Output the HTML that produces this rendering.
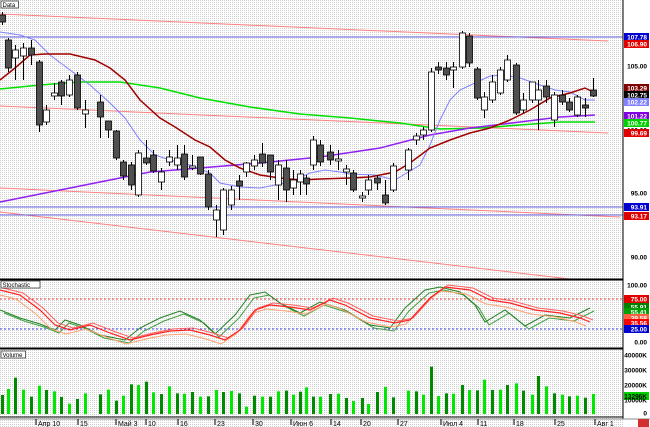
<!DOCTYPE html>
<html><head><meta charset="utf-8"><style>
html,body{margin:0;padding:0;background:#fff;}
svg{display:block;font-family:"Liberation Sans",sans-serif;}
</style></head><body>
<svg id="c" width="650" height="427" viewBox="0 0 650 427" xmlns="http://www.w3.org/2000/svg">
<defs><pattern id="dots" width="2" height="2" patternUnits="userSpaceOnUse"><rect width="2" height="2" fill="#fff"/><rect width="1" height="1" fill="#d0d0d0"/></pattern></defs>
<rect width="650" height="427" fill="url(#dots)"/>
<rect x="623" y="0" width="27" height="427" fill="#fff"/>
<g id="g"></g>
</svg>
<script>
var g=document.getElementById('g');var NS='http://www.w3.org/2000/svg';
function el(t,a,txt){var e=document.createElementNS(NS,t);for(var k in a)e.setAttribute(k,a[k]);if(txt!==undefined)e.textContent=txt;g.appendChild(e);return e;}
function pl(pts,col,w,dash){el('polyline',{points:pts.map(function(p){return p.join(',')}).join(' '),fill:'none',stroke:col,'stroke-width':w||1,'stroke-dasharray':dash||''});}
el('line',{x1:0,y1:14,x2:608,y2:41,stroke:'#ff8080'});
el('line',{x1:0,y1:106,x2:608,y2:133,stroke:'#ff8080'});
el('line',{x1:0,y1:188,x2:620,y2:217,stroke:'#ff8080'});
el('line',{x1:0,y1:212,x2:570,y2:279,stroke:'#ff8080'});
el('line',{x1:0,y1:37,x2:623,y2:37,stroke:'#6060e0'});
el('line',{x1:0,y1:207,x2:623,y2:207,stroke:'#6060e0'});
el('line',{x1:0,y1:215,x2:623,y2:215,stroke:'#6060e0'});
pl([[0,89],[40,85],[80,82],[120,82],[160,88],[200,98],[250,107],[300,114],[350,118],[400,123],[440,129],[480,128],[520,125],[560,122],[595,122]],'#00e000',1.5);
pl([[0,202],[60,190],[120,178],[150,172],[200,168],[260,163],[320,157],[380,148],[430,135],[470,128],[520,122],[560,117],[595,115]],'#9020f0',1.5);
pl([[0,32],[20,35],[35,40],[50,55],[70,70],[90,85],[110,103],[125,118],[140,140],[155,155],[170,160],[190,165],[210,173],[220,183],[240,187],[260,188],[290,182],[310,173],[325,170],[340,172],[350,174],[375,175],[395,180],[420,165],[430,145],[440,120],[450,100],[460,90],[475,83],[490,76],[505,75],[520,78],[540,85],[555,90],[570,92],[585,100],[595,100]],'#8080ff',1);
pl([[0,80],[15,68],[30,55],[45,54],[70,54],[95,60],[110,68],[125,80],[140,100],[160,118],[175,127],[195,140],[210,147],[225,160],[240,168],[260,175],[280,178],[300,180],[320,179],[350,178],[370,177],[395,172],[410,163],[430,148],[450,140],[470,133],[490,128],[510,120],[530,110],[550,98],[570,93],[585,88],[593,92]],'#a00000',1.5);
var C=[[2,15,22,12,25,0],[8,40,68,38,72,0],[15,50,58,45,80,1],[23,48,56,43,80,1],[31,48,55,40,65,0],[39,62,125,60,132,0],[46,110,122,105,125,1],[54,93,96,83,100,1],[61,82,96,80,105,0],[69,80,95,75,97,1],[77,75,108,72,110,0],[85,110,114,100,128,1],[100,102,117,95,138,0],[108,121,130,121,138,0],[116,131,158,130,160,0],[123,162,176,160,180,0],[131,165,185,162,190,0],[138,153,195,150,197,1],[146,158,163,140,165,0],[153,155,171,150,173,0],[161,172,182,168,190,1],[169,157,162,150,166,1],[177,158,165,145,170,1],[184,154,177,145,180,0],[192,166,168,155,170,1],[200,157,174,157,175,0],[208,174,207,170,210,0],[216,210,220,205,237,1],[223,190,230,188,235,1],[231,190,205,186,210,1],[239,181,186,175,200,0],[246,163,172,162,177,1],[254,160,166,155,170,1],[262,154,163,143,167,0],[270,155,172,155,180,0],[278,165,185,160,200,1],[286,168,190,160,202,0],[293,180,188,170,195,1],[300,174,182,170,195,1],[306,178,184,175,195,0],[313,140,165,136,170,1],[320,145,162,140,166,0],[330,152,160,145,165,0],[338,159,161,150,170,1],[346,169,172,165,185,1],[353,173,190,170,192,0],[362,196,198,192,202,1],[368,180,190,175,195,1],[377,178,183,175,190,0],[385,195,203,180,205,0],[393,166,190,163,192,1],[408,150,170,148,180,1],[416,136,140,133,145,1],[423,130,135,127,140,1],[431,72,130,68,132,1],[438,67,70,62,74,0],[446,68,75,62,80,0],[453,67,70,62,88,1],[462,33,67,31,69,1],[469,36,63,33,67,0],[477,69,98,67,100,0],[484,97,110,92,118,1],[492,82,100,75,103,1],[500,70,93,67,95,1],[507,60,80,55,82,1],[516,65,113,63,115,0],[523,100,110,93,113,1],[532,82,100,82,103,1],[538,90,100,80,130,1],[546,86,97,80,103,0],[554,95,120,92,127,1],[562,95,102,90,105,0],[569,102,110,98,112,0],[577,97,115,95,117,1],[585,105,108,98,117,0],[593,90,96,78,97,0]];
var V=[375,357,323,359,380,347,360,364,381,401,387,370,373,359,392,377,343,345,335,367,372,349,370,371,366,380,379,360,366,363,370,410,377,380,380,364,362,374,365,352,380,380,372,371,384,393,384,402,366,351,382,362,364,374,290,378,370,371,345,360,361,329,360,359,345,340,362,374,318,349,370,374,379,377,383,372];
C.forEach(function(c,i){
 el('line',{x1:c[0]+0.5,y1:c[3],x2:c[0]+0.5,y2:c[4],stroke:'#000'});
 el('rect',{x:c[0]-2.5,y:c[1],width:6,height:Math.max(1,c[2]-c[1]),fill:c[5]?'#fff':'#505050',stroke:'#000','stroke-width':0.8});
 var vt=270+V[i]/3;
 el('rect',{x:c[0]-1,y:vt,width:3,height:414-vt,fill:(i%2==0)?'#008a00':'#00e800'});
});
el('line',{x1:0,y1:299,x2:623,y2:299,stroke:'#e04040','stroke-dasharray':'2,2'});
el('line',{x1:0,y1:329,x2:623,y2:329,stroke:'#4040e0','stroke-dasharray':'2,2'});
var R=[[0,290],[20,295],[40,310],[55,325],[70,330],[90,325],[110,333],[130,340],[150,335],[170,331],[190,330],[210,335],[225,340],[240,330],[255,310],[270,305],[290,307],[310,310],[330,300],[345,305],[370,318],[395,323],[410,320],[430,298],[445,287],[470,290],[490,300],[510,303],[535,310],[560,313],[580,318],[590,322]];
var G=[[0,310],[20,318],[40,324],[55,330],[65,320],[80,325],[100,335],[125,340],[140,328],[160,318],[180,311],[200,320],[215,334],[235,315],[250,295],[265,292],[280,303],[300,313],[320,302],[345,310],[370,325],[390,328],[405,308],[425,290],[440,287],[460,292],[475,305],[485,322],[505,310],[525,326],[545,315],[570,318],[590,308]];
function sh(a,dx,dy){return a.map(function(p){return [p[0]+dx,p[1]+dy]});}
pl(sh(G,4,3),'#40a040',1);pl(G,'#208020',1);
pl(sh(R,-4,4),'#ffa070',1);pl(sh(R,3,-2),'#ff6060',1);pl(R,'#ff2020',1.2);
[279,280,348,349,417].forEach(function(y){el('line',{x1:0,y1:y,x2:623,y2:y,stroke:'#000'});});
el('line',{x1:623,y1:0,x2:623,y2:419,stroke:'#000'});
el('line',{x1:0,y1:419,x2:650,y2:419,stroke:'#888'});
function tag(x,y,t){el('rect',{x:x,y:y,width:t.length*3.6+3,height:7,fill:'#fff',stroke:'#000','stroke-width':0.6});el('text',{x:x+1.5,y:y+6,'font-size':6,fill:'#000'},t);}
tag(1,1,'Data');tag(1,281,'Stochastic');tag(1,351,'Volume');
function lab(y,t,bg,fg){if(bg)el('rect',{x:624,y:y-4,width:25,height:8,fill:bg});el('text',{x:647,y:y+2.5,'font-size':6.5,'text-anchor':'end',fill:fg||'#000','font-weight':'bold'},t);}
lab(37,'107.78','#0000d0','#fff');lab(44,'106.90','#e00000','#fff');lab(66,'105.00');
lab(88,'103.29','#800000','#fff');lab(95,'102.75','#000','#fff');lab(102,'102.22','#8080ff','#fff');
lab(116,'101.22','#8000e0','#fff');lab(123,'100.77','#00d000','#fff');lab(130,'100.00');lab(133,'99.69','#e00000','#fff');
lab(193,'95.00');lab(207,'93.91','#0000d0','#fff');lab(216,'93.17','#e00000','#fff');lab(257,'90.00');
lab(285,'100.00');lab(299,'75.00','#e00000','#fff');lab(307,'55.91','#008000','#fff');lab(312,'55.41','#00a000','#fff');
lab(318,'39.58','#ff6040','#fff');lab(323,'35.56','#ff0000','#fff');lab(329,'25.00','#0000d0','#fff');lab(342,'0.00');
lab(355,'40000K');lab(370,'30000K');lab(385,'20000K');lab(396,'13296K','#00d000','#000');lab(400,'10000K');lab(413,'0');
el('rect',{x:638,y:419,width:11,height:8,fill:'#d03030'});
[[38,'Апр 10'],[80,'15'],[118,'Май 3'],[148,'10'],[180,'16'],[217,'23'],[255,'30'],[293,'Июн 6'],[333,'14'],[363,'20'],[400,'27'],[443,'Июл 4'],[480,'11'],[516,'18'],[557,'25'],[597,'Авг 1']].forEach(function(d){
 el('line',{x1:d[0]-2,y1:419,x2:d[0]-2,y2:425,stroke:'#000'});
 el('text',{x:d[0],y:426,'font-size':7,fill:'#000'},d[1]);});
</script>
</body></html>
